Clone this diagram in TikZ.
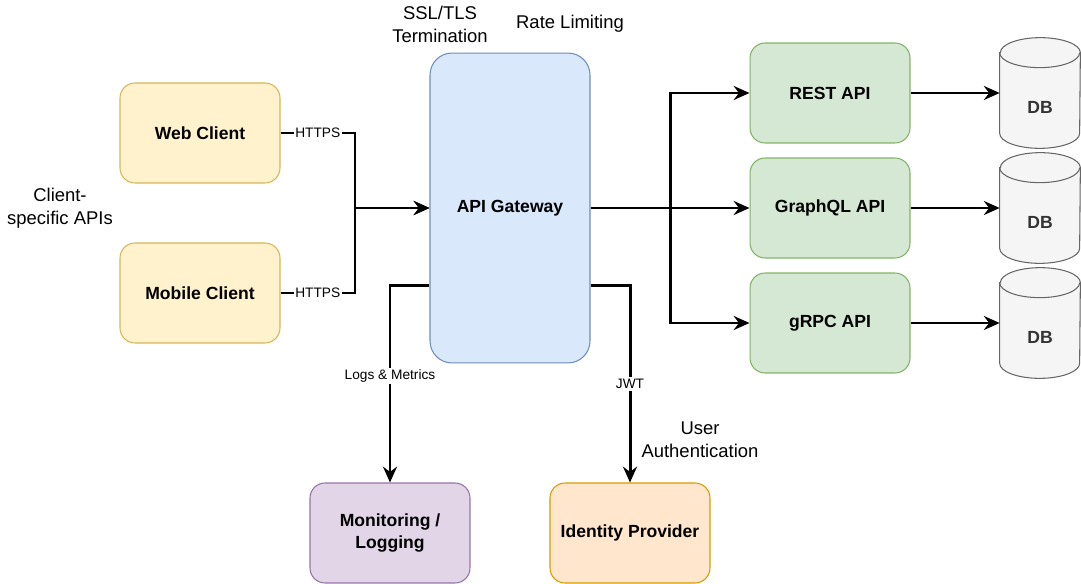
\documentclass[tikz,border=0pt]{standalone}
\usepackage{fontspec}
\setmainfont{Liberation Sans}
\usepackage{tikz}
\usetikzlibrary{arrows.meta,positioning,calc}
\definecolor{clientFill}{HTML}{FFF2CC}
\definecolor{clientLine}{HTML}{D6B656}
\definecolor{gwFill}{HTML}{DAE8FC}
\definecolor{gwLine}{HTML}{6C8EBF}
\definecolor{apiFill}{HTML}{D5E8D4}
\definecolor{apiLine}{HTML}{82B366}
\definecolor{monFill}{HTML}{E1D5E7}
\definecolor{monLine}{HTML}{9673A6}
\definecolor{idpFill}{HTML}{FFE6CC}
\definecolor{idpLine}{HTML}{D79B00}
\definecolor{dbFill}{HTML}{F5F5F5}
\definecolor{dbLine}{HTML}{666666}
\definecolor{dbText}{HTML}{333333}

\begin{document}
\begin{tikzpicture}[x=0.02cm, y=-0.02cm,
    box/.style={draw, rounded corners=0.3cm, minimum width=3.2cm, minimum height=2cm,
      line width=0.6pt, align=center, font=\fontsize{10}{12.5}\selectfont\bfseries},
    flow/.style={line width=1.7pt, -{Stealth[length=9pt, width=8pt, inset=3pt]}},
    lbl/.style={fill=white, inner sep=1pt, font=\fontsize{7.8}{9}\selectfont},
    note/.style={align=center, font=\fontsize{10.5}{13}\selectfont},
    dbase/.style={minimum width=1.6cm, minimum height=2.2cm, inner sep=0pt},
    dbshape/.style={draw=dbLine, fill=dbFill, line width=0.6pt},
    dbtext/.style={text=dbText, font=\fontsize{10}{12}\selectfont\bfseries}]
  \useasboundingbox (0,0) rectangle (1081,584);

  % --- clients ---
  \node[box, fill=clientFill, draw=clientLine] (web) at (200,133) {Web Client};
  \node[box, fill=clientFill, draw=clientLine] (mobile) at (200,293) {Mobile Client};
  \node[note] (clientnote) at (60,208) {Client-\\specific APIs};

  % --- gateway ---
  \node[box, fill=gwFill, draw=gwLine, rounded corners=0.44cm, minimum height=6.2cm] (gw) at (510,208) {API Gateway};
  \node[note] (ssl) at (440,24) {SSL/TLS\\Termination};
  \node[note] (rate) at (570,24) {Rate Limiting};

  % --- backend services ---
  \node[box, fill=apiFill, draw=apiLine] (rest) at (830,93) {REST API};
  \node[box, fill=apiFill, draw=apiLine] (gql) at (830,208) {GraphQL API};
  \node[box, fill=apiFill, draw=apiLine] (grpc) at (830,323) {gRPC API};

  % --- databases (cylinders drawn round empty nodes) ---
  \node[dbase] (db1) at (1040,93) {};
  \node[dbase] (db2) at (1040,208) {};
  \node[dbase] (db3) at (1040,323) {};
  \foreach \d in {db1,db2,db3} {
    \draw[dbshape] ([yshift=-0.3cm]\d.north west) -- ([yshift=0.3cm]\d.south west)
      arc[start angle=180, end angle=360, x radius=0.8cm, y radius=0.3cm]
      -- ([yshift=-0.3cm]\d.north east)
      arc[start angle=0, end angle=180, x radius=0.8cm, y radius=0.3cm] -- cycle;
    \draw[dbshape, fill=none] ([yshift=-0.3cm]\d.north west)
      arc[start angle=180, end angle=360, x radius=0.8cm, y radius=0.3cm];
  }
  \node[dbtext] (db1t) at ([yshift=-0.28cm]db1.center) {DB};
  \node[dbtext] (db2t) at ([yshift=-0.28cm]db2.center) {DB};
  \node[dbtext] (db3t) at ([yshift=-0.28cm]db3.center) {DB};

  % --- side services ---
  \node[box, fill=monFill, draw=monLine] (mon) at (390,533) {Monitoring /\\Logging};
  \node[box, fill=idpFill, draw=idpLine] (idp) at (630,533) {Identity Provider};
  \node[note] (authnote) at (700,440) {User\\Authentication};

  % client -> gateway
  \coordinate (join) at (355,208);
  \draw[flow] (web.east) -- node[lbl] {HTTPS} (web.east -| join) |- (gw.west);
  \draw[flow] (mobile.east) -- node[lbl] {HTTPS} (mobile.east -| join) |- (gw.west);

  % gateway -> services
  \coordinate (fork) at (670,208);
  \draw[flow] (gw.east) -- (gql.west);
  \draw[flow] (fork) |- (rest.west);
  \draw[flow] (fork) |- (grpc.west);

  % services -> databases
  \draw[flow] (rest.east) -- (db1.west);
  \draw[flow] (gql.east) -- (db2.west);
  \draw[flow] (grpc.east) -- (db3.west);

  % gateway -> monitoring / identity
  \draw[flow] ([yshift=1.56cm]gw.south west) -| node[lbl, pos=0.73] {Logs \& Metrics} (mon.north);
  \draw[flow] ([yshift=1.56cm]gw.south east) -| node[lbl, pos=0.75] {JWT} (idp.north);
\end{tikzpicture}
\end{document}
